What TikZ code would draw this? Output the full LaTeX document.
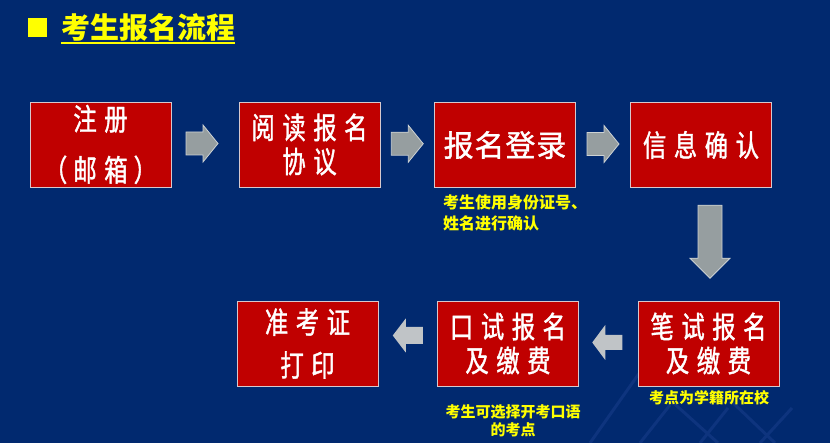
\documentclass[tikz,border=0pt]{standalone}
\usepackage{fontspec}
\usetikzlibrary{calc}
\newfontfamily\cjk{Noto Sans CJK SC}
\newfontfamily\bxf[FakeStretch=0.78,LetterSpace=25,FakeBold=1.2]{Noto Sans CJK SC}
\newfontfamily\bxw[LetterSpace=3,FakeBold=1.2]{Noto Sans CJK SC}
\definecolor{bgblue}{RGB}{1,41,111}
\definecolor{boxred}{RGB}{192,0,0}
\definecolor{boxedge}{RGB}{215,200,205}
\definecolor{argray}{RGB}{150,158,160}
\definecolor{aredge}{RGB}{205,210,212}
\definecolor{arlight}{RGB}{192,196,199}
\definecolor{ylw}{RGB}{255,255,0}
\definecolor{deco}{RGB}{14,52,126}
\tikzset{
  pics/blockarrow/.style n args={4}{code={
    \path[pic actions] ({-#1/2},{-#2}) -- ({#1/2-#4},{-#2}) -- ({#1/2-#4},{-#3})
      -- ({#1/2},0) -- ({#1/2-#4},{#3}) -- ({#1/2-#4},{#2}) -- ({-#1/2},{#2}) -- cycle;
  }},
  box/.style={draw=boxedge, line width=0.8pt, fill=boxred, minimum width=141pt,
    minimum height=85pt, inner sep=0pt, text=white, align=center,
    font=\bxf\fontsize{30}{34}\selectfont},
  darr/.style={fill=argray, draw=aredge, line width=0.8pt},
  larr/.style={fill=arlight},
  note/.style={text=ylw, inner sep=0pt, font=\cjk\bfseries\fontsize{15}{21}\selectfont},
  decoline/.style={draw=deco, line width=3pt}
}
\begin{document}
\begin{tikzpicture}[x=1pt,y=-1pt]
\fill[bgblue] (0,0) rectangle (830,443);
\useasboundingbox (0,0) rectangle (830,443);
% decorative background lines
\draw[decoline] (590,443) -- (645,365);
\draw[decoline] (640,443) -- (670,405);
\draw[decoline] (668,398) -- (718,443);
\draw[decoline] (700,443) -- (728,408);
\draw[decoline] (730,400) -- (775,443);
\draw[decoline] (760,443) -- (792,408);
% title
\fill[ylw] (28,18) rectangle (47,37);
\node[text=ylw, anchor=west, inner sep=0pt, font=\cjk\bfseries\fontsize{29}{29}\selectfont] (title) at (61,27) {考生报名流程};
\draw[ylw, line width=1.2pt] ($(title.west)+(0,16)$) coordinate (ul1) -- ($(title.east)+(0,16)$) coordinate (ul2);
% boxes row 1
\node[box] (b1) at (100.5,144.5) {注册\\[17pt]（\hspace{6pt}邮箱\hspace{6pt}）};
\node[box] (b2) at (309.5,144.5) {阅读报名\\协议};
\node[box, font=\bxw\fontsize{30}{34}\selectfont] (b3) at (505,145) {报名登录};
\node[box] (b4) at (701,145) {信息确认};
% boxes row 2
\node[box] (b5) at (708.5,343.5) {笔试报名\\及缴费};
\node[box] (b6) at (508,343.5) {口试报名\\及缴费};
\node[box] (b7) at (307.5,343.5) {准考证\\[9pt]打印};
% arrows
\pic[darr] (a1) at ($(b1.east)!0.5!(b2.west)+(-3,-1)$) {blockarrow={32}{11.5}{18.5}{15}};
\pic[darr] (a2) at ($(b2.east)!0.5!(b3.west)+(0,-1)$) {blockarrow={32}{11.5}{18.5}{15}};
\pic[darr] (a3) at ($(b3.east)!0.5!(b4.west)+(0,-1)$) {blockarrow={32}{11.5}{18.5}{15}};
\pic[darr, rotate=-90] (a4) at ($(b4.south -| b5.north)!0.5!(b5.north)+(1.5,-2.5)$) {blockarrow={73}{12}{20}{20}};
\pic[larr, rotate=180] (a5) at ($(b5.west)!0.5!(b6.east)+(-1,-1)$) {blockarrow={30}{7.5}{17.5}{13}};
\pic[larr, rotate=180] (a6) at ($(b6.west)!0.5!(b7.east)+(0,-8)$) {blockarrow={30}{8.5}{17}{13}};
% notes
\node[note, anchor=west, align=left, font=\cjk\bfseries\fontsize{16}{21}\selectfont] (n3) at (443,212.5) {考生使用身份证号、\\姓名进行确认};
\node[note, align=center] (n5) at (709,398) {考点为学籍所在校};
\node[note, align=center, font=\cjk\bfseries\fontsize{15}{18}\selectfont] (n6) at (513,421) {考生可选择开考口语\\的考点};
\end{tikzpicture}
\end{document}
